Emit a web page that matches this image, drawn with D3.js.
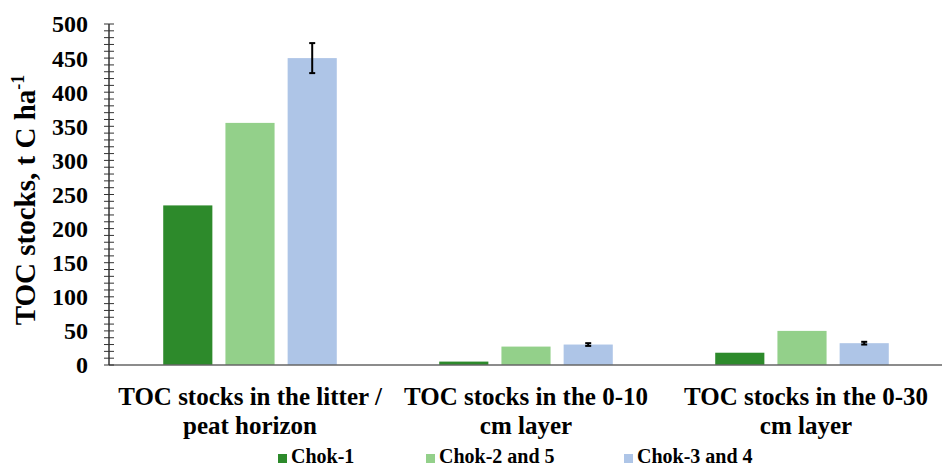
<!DOCTYPE html>
<html>
<head>
<meta charset="utf-8">
<script src="https://cdn.jsdelivr.net/npm/d3@7"></script>
<style>
  body { margin: 0; background: #fff; }
  svg { display: block; }
  text { font-family: "Liberation Serif", "Times New Roman", serif; font-weight: bold; fill: #000; }
</style>
</head>
<body>
<svg width="942" height="467"></svg>
<script>
const categories = [
  ['TOC stocks in the litter /', 'peat horizon'],
  ['TOC stocks in the 0-10', 'cm layer'],
  ['TOC stocks in the 0-30', 'cm layer'],
];
const seriesNames = ['Chok-1', 'Chok-2 and 5', 'Chok-3 and 4'];
const chok1 = [234, 5, 18];
const chok25 = [355, 27, 50];
const chok34 = [450, 30, 32];
const chok34Err = [22, 2, 2];
const yTicks = [0, 50, 100, 150, 200, 250, 300, 350, 400, 450, 500];
const colors = ['#2d8a2b', '#93d08a', '#aec5e7'];

const seriesValues = [chok1, chok25, chok34];
const seriesErr = [null, null, chok34Err];

const svg = d3.select('svg');

const y = d3.scaleLinear().domain([0, 500]).range([365, 24]);
const x0 = d3.scaleBand()
    .domain(d3.range(categories.length))
    .range([112, 940]);
const x1 = d3.scaleBand()
    .domain(d3.range(seriesNames.length))
    .range([-93, 93])
    .paddingInner(0.21)
    .paddingOuter(0.1);

// bars
const rows = categories.map((c, i) => seriesNames.map((s, j) => ({
  cat: i, ser: j, value: seriesValues[j][i],
  err: seriesErr[j] ? seriesErr[j][i] : null,
})));

const groups = svg.append('g')
    .selectAll('g')
    .data(rows)
    .enter()
    .append('g')
    .attr('transform', (d, i) => `translate(${x0(i) + x0.bandwidth() / 2},0)`);

groups.selectAll('rect')
    .data(d => d)
    .enter()
    .append('rect')
    .attr('x', d => x1(d.ser))
    .attr('width', x1.bandwidth())
    .attr('y', d => y(d.value))
    .attr('height', d => y(0) - y(d.value))
    .style('fill', d => colors[d.ser]);

// error bars
const errs = groups.selectAll('g.err')
    .data(d => d.filter(e => e.err != null))
    .enter()
    .append('g')
    .attr('class', 'err')
    .style('stroke', '#000')
    .style('stroke-width', '2px');

errs.append('line')
    .attr('x1', d => x1(d.ser) + x1.bandwidth() / 2)
    .attr('x2', d => x1(d.ser) + x1.bandwidth() / 2)
    .attr('y1', d => y(d.value - d.err))
    .attr('y2', d => y(d.value + d.err));
[-1, 1].forEach(s => {
  errs.append('line')
      .attr('x1', d => x1(d.ser) + x1.bandwidth() / 2 - 3)
      .attr('x2', d => x1(d.ser) + x1.bandwidth() / 2 + 3)
      .attr('y1', d => y(d.value + s * d.err))
      .attr('y2', d => y(d.value + s * d.err));
});

// x baseline
svg.append('line')
    .attr('x1', 109).attr('x2', 942)
    .attr('y1', y(0)).attr('y2', y(0))
    .style('stroke', '#666')
    .style('stroke-width', '1.5px');

// y axis with crossing minor ticks
const yAxisG = svg.append('g').attr('transform', 'translate(109,0)');
yAxisG.append('line')
    .attr('y1', y(0)).attr('y2', y(500))
    .style('stroke', '#333').style('stroke-width', '1.5px');
yAxisG.selectAll('line.minor')
    .data(d3.range(0, 501, 10))
    .enter()
    .append('line')
    .attr('class', 'minor')
    .attr('x1', -5).attr('x2', 5)
    .attr('y1', d => y(d)).attr('y2', d => y(d))
    .style('stroke', '#333').style('stroke-width', '1px');
yAxisG.selectAll('text')
    .data(yTicks)
    .enter()
    .append('text')
    .attr('x', -21)
    .attr('y', d => y(d))
    .attr('dy', '0.35em')
    .attr('text-anchor', 'end')
    .style('font-size', '24px')
    .text(d => d);

// y title
const yTitle = svg.append('text')
    .attr('transform', 'translate(35,200) rotate(-90)')
    .attr('text-anchor', 'middle')
    .style('font-size', '29px');
yTitle.append('tspan').text('TOC stocks, t C ha');
yTitle.append('tspan').attr('dy', '-11').style('font-size', '18px').text('-1');

// category labels
categories.forEach((lines, i) => {
  const cx = x0(i) + x0.bandwidth() / 2 + (i === 2 ? 4 : 0);
  const t = svg.append('text')
      .attr('text-anchor', 'middle')
      .attr('transform', `translate(${cx},405)`)
      .style('font-size', '25px');
  lines.forEach((l, k) => {
    t.append('tspan')
        .attr('x', 0)
        .attr('y', k * 29)
        .text(l);
  });
});

// legend
const legendX = [278, 426, 624];
const legend = svg.append('g')
    .selectAll('g')
    .data(seriesNames)
    .enter()
    .append('g')
    .attr('transform', (d, i) => `translate(${legendX[i]},454)`);
legend.append('rect')
    .attr('width', 9).attr('height', 9)
    .style('fill', (d, i) => colors[i]);
legend.append('text')
    .attr('x', 13)
    .attr('y', 9)
    .style('font-size', '20px')
    .text(d => d);
</script>
</body>
</html>
